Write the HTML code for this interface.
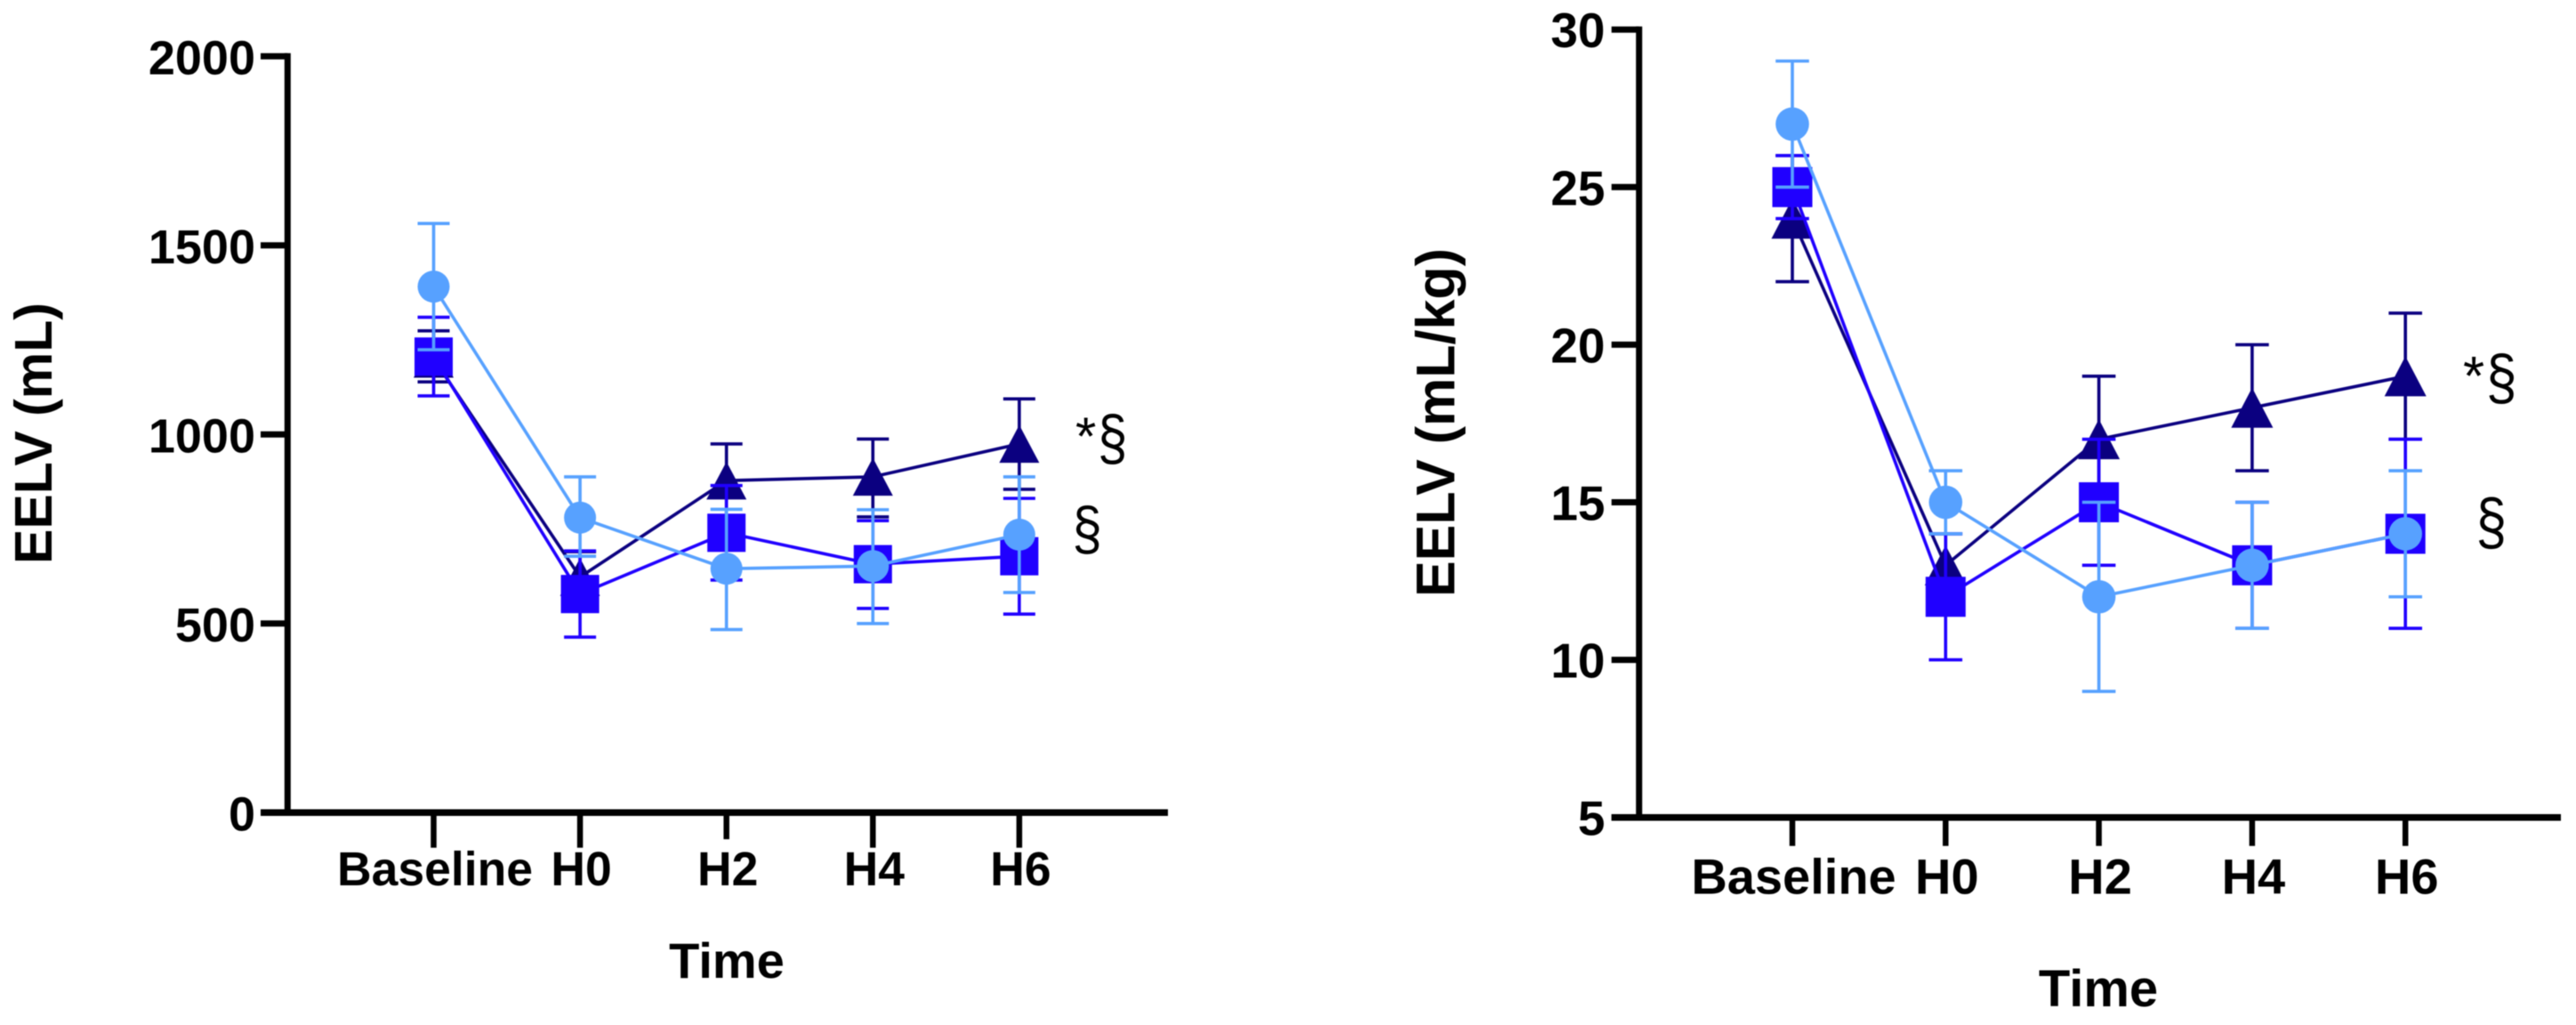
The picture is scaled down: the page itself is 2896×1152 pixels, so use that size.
<!DOCTYPE html>
<html lang="en">
<head>
<meta charset="utf-8">
<title>EELV over time</title>
<style>
html,body{margin:0;padding:0;background:#fff;width:2896px;height:1152px;overflow:hidden}
svg{display:block;filter:blur(0.6px)}
text{font-family:"Liberation Sans",Arial,sans-serif;fill:#000}
.b{font-weight:700}
</style>
</head>
<body>
<svg id="figure" xmlns="http://www.w3.org/2000/svg" width="2896" height="1152" viewBox="0 0 2896 1152">
  <rect x="0" y="0" width="2896" height="1152" fill="#fff"/>
  <g id="left-panel"></g>
  <g id="right-panel"></g>
  <text class="b" transform="translate(58 487) rotate(-90)" text-anchor="middle" font-size="59">EELV (mL)</text>
  <text class="b" x="817" y="1099" text-anchor="middle" font-size="56">Time</text>
  <text x="1209" y="511" font-size="60">*</text>
  <text transform="translate(1234 516) scale(1 1.17)" font-size="60">§</text>
  <text transform="translate(1205.5 617) scale(1 1.13)" font-size="60">§</text>
  <text class="b" transform="translate(1635 475) rotate(-90)" text-anchor="middle" font-size="61">EELV (mL/kg)</text>
  <text class="b" x="2359" y="1131" text-anchor="middle" font-size="58">Time</text>
  <text x="2769" y="444" font-size="62">*</text>
  <text transform="translate(2795 448) scale(1 1.13)" font-size="62">§</text>
  <text transform="translate(2783.5 611) scale(1 1.17)" font-size="62">§</text>
</svg>
<script>
var categories = ['Baseline', 'H0', 'H2', 'H4', 'H6'];

var leftTicks = [0, 500, 1000, 1500, 2000];
var leftTriangleMean = [1200, 623, 878, 888, 975];
var leftTriangleUpper = [1274, 690, 975, 988, 1094];
var leftTriangleLower = [1139, 555, 775, 782, 855];
var leftSquareMean = [1206, 578, 740, 657, 678];
var leftSquareUpper = [1310, 692, 865, 772, 831];
var leftSquareLower = [1102, 464, 615, 540, 525];
var leftCircleMean = [1391, 780, 645, 652, 735];
var leftCircleUpper = [1558, 888, 802, 801, 888];
var leftCircleLower = [1224, 678, 484, 500, 582];

var rightTicks = [5, 10, 15, 20, 25, 30];
var rightTriangleMean = [24, 13, 17, 18, 19];
var rightTriangleUpper = [26, 14, 19, 20, 21];
var rightTriangleLower = [22, 12, 15, 16, 17];
var rightSquareMean = [25, 12, 15, 13, 14];
var rightSquareUpper = [26, 14, 17, 15, 17];
var rightSquareLower = [24, 10, 13, 11, 11];
var rightCircleMean = [27, 15, 12, 13, 14];
var rightCircleUpper = [29, 16, 15, 15, 16];
var rightCircleLower = [25, 14, 9, 11, 12];

var NAVY = '#0b0080';
var BLUE = '#2000ff';
var LIGHT = '#57a1ff';
var NS = 'http://www.w3.org/2000/svg';

function make(parent, tag, attrs) {
  var node = document.createElementNS(NS, tag);
  for (var k in attrs) { node.setAttribute(k, attrs[k]); }
  parent.appendChild(node);
  return node;
}

function drawSeries(parent, p, shape, color, mean, upper, lower) {
  var group = make(parent, 'g', {});
  
  
  var pts = [];
  for (var i = 0; i < mean.length; i++) { pts.push(p.x(i) + ',' + p.y(mean[i])); }
  var line = make(group, 'polyline', {points: pts.join(' '), fill: 'none', stroke: color, 'stroke-width': 3.6, 'stroke-linejoin': 'round'});
  
  
  for (var j = 0; j < mean.length; j++) {
    var cx = p.x(j);
    var d = 'M' + cx + ' ' + p.y(upper[j]) + 'V' + p.y(lower[j]) +
      'M' + (cx - p.cap / 2) + ' ' + p.y(upper[j]) + 'H' + (cx + p.cap / 2) +
      'M' + (cx - p.cap / 2) + ' ' + p.y(lower[j]) + 'H' + (cx + p.cap / 2);
    var err = make(group, 'path', {d: d, fill: 'none', stroke: color, 'stroke-width': 3.6});
    
    
  }
  for (var m = 0; m < mean.length; m++) {
    var mx = p.x(m);
    var my = p.y(mean[m]);
    var mark;
    if (shape === 'triangle') {
      mark = make(group, 'polygon', {points: mx + ',' + (my - p.triH / 2) + ' ' + (mx + p.triW / 2) + ',' + (my + p.triH / 2) + ' ' + (mx - p.triW / 2) + ',' + (my + p.triH / 2), fill: color});
    } else if (shape === 'square') {
      mark = make(group, 'rect', {x: mx - p.sq / 2, y: my - p.sq / 2, width: p.sq, height: p.sq, fill: color});
    } else {
      mark = make(group, 'circle', {cx: mx, cy: my, r: p.r, fill: color});
    }
    
    
  }
}

function drawAxes(parent, p, ticks) {
  var yTop = p.y(ticks[ticks.length - 1]);
  var yBot = p.y(ticks[0]);
  var yAxis = make(parent, 'line', {x1: p.axisX, x2: p.axisX, y1: yTop - 3.5, y2: yBot, stroke: '#000', 'stroke-width': 7});
  
  
  var xAxis = make(parent, 'line', {x1: p.tickLeft, x2: p.axisEnd, y1: yBot, y2: yBot, stroke: '#000', 'stroke-width': 7.5});
  
  
  ticks.forEach(function (t) {
    var tick = make(parent, 'line', {x1: p.tickLeft, x2: p.axisX, y1: p.y(t), y2: p.y(t), stroke: '#000', 'stroke-width': 7});
    
    
    var label = make(parent, 'text', {x: p.labelRight, y: p.y(t) + 20, 'text-anchor': 'end', 'font-size': p.tickFont, 'font-weight': 700});
    
    
    label.textContent = t;
  });
  categories.forEach(function (c, i) {
    var bottom = (p.shortTick === i) ? p.tickBottom - 9.5 : p.tickBottom;
    var tick = make(parent, 'line', {x1: p.x(i), x2: p.x(i), y1: yBot, y2: bottom, stroke: '#000', 'stroke-width': 6.5});
    
    
    var label = make(parent, 'text', {x: p.x(i) + 1.5, y: p.catBase, 'text-anchor': 'middle', 'font-size': p.catFont, 'font-weight': 700});
    
    
    label.textContent = c;
  });
}

var leftPanel = {
  x: function (i) { return 487.5 + i * 164.6; },
  y: function (v) { return 913.3 - v * 0.425; },
  axisX: 323.3, axisEnd: 1313, tickLeft: 293, labelRight: 287, tickBottom: 952.7, shortTick: 2,
  tickFont: 54, catFont: 53.5, catBase: 995,
  cap: 36, triW: 45, triH: 42.5, sq: 43, r: 18
};
var rightPanel = {
  x: function (i) { return 2015 + i * 172.3; },
  y: function (v) { return 918.7 - (v - 5) * 35.42; },
  axisX: 1842.7, axisEnd: 2879, tickLeft: 1811.7, labelRight: 1804.5, tickBottom: 950.7, shortTick: -1,
  tickFont: 55, catFont: 56, catBase: 1004.3,
  cap: 37.6, triW: 47, triH: 45, sq: 45, r: 18.8
};

var leftGroup = document.getElementById('left-panel');
drawAxes(leftGroup, leftPanel, leftTicks);
drawSeries(leftGroup, leftPanel, 'triangle', NAVY, leftTriangleMean, leftTriangleUpper, leftTriangleLower);
drawSeries(leftGroup, leftPanel, 'square', BLUE, leftSquareMean, leftSquareUpper, leftSquareLower);
drawSeries(leftGroup, leftPanel, 'circle', LIGHT, leftCircleMean, leftCircleUpper, leftCircleLower);

var rightGroup = document.getElementById('right-panel');
drawAxes(rightGroup, rightPanel, rightTicks);
drawSeries(rightGroup, rightPanel, 'triangle', NAVY, rightTriangleMean, rightTriangleUpper, rightTriangleLower);
drawSeries(rightGroup, rightPanel, 'square', BLUE, rightSquareMean, rightSquareUpper, rightSquareLower);
drawSeries(rightGroup, rightPanel, 'circle', LIGHT, rightCircleMean, rightCircleUpper, rightCircleLower);
</script>
</body>
</html>
